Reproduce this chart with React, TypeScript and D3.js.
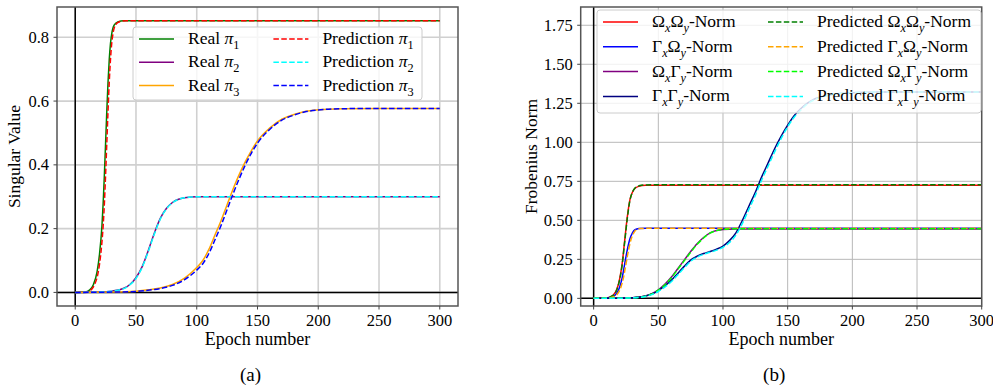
import React, { useEffect } from "react";
import * as d3 from "d3";

type Pt = [number, number];

const epochTicks = [0, 50, 100, 150, 200, 250, 300];
const singularTicks = [0, 0.2, 0.4, 0.6, 0.8];
const normTicks = [0, 0.25, 0.5, 0.75, 1, 1.25, 1.5, 1.75];

// (a) singular values, [epoch, value]
const realPi1: Pt[] = [[0, 0], [8, 0.001], [12, 0.008], [15, 0.025], [18, 0.065], [20, 0.12], [22, 0.21], [23, 0.28], [24, 0.37], [25, 0.47], [26, 0.57], [27, 0.66], [28, 0.73], [29, 0.78], [30, 0.81], [32, 0.838], [35, 0.848], [40, 0.852], [60, 0.852], [300, 0.852]];
const predPi1: Pt[] = [[0, 0], [9, 0.001], [13, 0.008], [16, 0.025], [19, 0.065], [21, 0.12], [23, 0.21], [24, 0.28], [25, 0.37], [26, 0.47], [27, 0.57], [28, 0.66], [29, 0.73], [30, 0.78], [31, 0.81], [33, 0.838], [36, 0.848], [42, 0.852], [60, 0.852], [300, 0.852]];
const realPi2: Pt[] = [[0, 0], [20, 0.001], [30, 0.004], [40, 0.013], [45, 0.025], [50, 0.046], [55, 0.08], [60, 0.13], [65, 0.185], [70, 0.232], [75, 0.263], [80, 0.282], [85, 0.292], [90, 0.297], [95, 0.299], [100, 0.3], [300, 0.3]];
const predPi2: Pt[] = [[0, 0], [20, 0.001], [30, 0.004], [40, 0.012], [45, 0.024], [50, 0.044], [55, 0.078], [60, 0.127], [65, 0.182], [70, 0.23], [75, 0.262], [80, 0.281], [85, 0.292], [90, 0.297], [95, 0.299], [100, 0.3], [300, 0.3]];
const realPi3: Pt[] = [[0, 0], [30, 0.001], [50, 0.004], [60, 0.008], [70, 0.014], [80, 0.025], [90, 0.045], [100, 0.078], [105, 0.1], [110, 0.135], [115, 0.18], [120, 0.225], [125, 0.275], [130, 0.325], [135, 0.37], [140, 0.41], [145, 0.445], [150, 0.475], [160, 0.515], [170, 0.543], [180, 0.558], [190, 0.568], [200, 0.573], [220, 0.576], [250, 0.577], [300, 0.577]];
const predPi3: Pt[] = [[0, 0], [30, 0.001], [50, 0.003], [60, 0.007], [70, 0.012], [80, 0.022], [90, 0.04], [100, 0.07], [105, 0.09], [110, 0.122], [115, 0.165], [120, 0.21], [125, 0.26], [130, 0.31], [135, 0.357], [140, 0.4], [145, 0.437], [150, 0.468], [160, 0.511], [170, 0.54], [180, 0.556], [190, 0.567], [200, 0.572], [220, 0.576], [250, 0.577], [300, 0.577]];

// (b) Frobenius norms
const realOO: Pt[] = [[0, 0], [10, 0.003], [15, 0.02], [18, 0.06], [20, 0.12], [22, 0.22], [24, 0.37], [26, 0.52], [28, 0.63], [30, 0.68], [32, 0.705], [35, 0.718], [40, 0.724], [50, 0.725], [300, 0.725]];
const predOO: Pt[] = [[0, 0], [10, 0.003], [15, 0.019], [18, 0.057], [20, 0.115], [22, 0.21], [24, 0.36], [26, 0.51], [28, 0.625], [30, 0.68], [32, 0.707], [35, 0.721], [40, 0.727], [50, 0.728], [300, 0.728]];
const realGO: Pt[] = [[0, 0], [10, 0.002], [15, 0.012], [18, 0.035], [20, 0.07], [22, 0.13], [24, 0.22], [26, 0.31], [28, 0.38], [30, 0.42], [32, 0.44], [35, 0.448], [40, 0.45], [300, 0.45]];
const predGO: Pt[] = [[0, 0], [11, 0.002], [16, 0.012], [19, 0.035], [21, 0.07], [23, 0.13], [25, 0.22], [27, 0.31], [29, 0.38], [31, 0.42], [33, 0.44], [36, 0.447], [42, 0.449], [300, 0.449]];
const realOG: Pt[] = [[0, 0], [20, 0.001], [30, 0.004], [40, 0.015], [45, 0.03], [50, 0.055], [55, 0.09], [60, 0.135], [65, 0.19], [70, 0.245], [75, 0.3], [80, 0.35], [85, 0.39], [90, 0.42], [95, 0.435], [100, 0.442], [110, 0.445], [300, 0.445]];
const predOG: Pt[] = [[0, 0], [20, 0.001], [30, 0.004], [40, 0.014], [45, 0.028], [50, 0.052], [55, 0.086], [60, 0.13], [65, 0.185], [70, 0.24], [75, 0.295], [80, 0.346], [85, 0.387], [90, 0.418], [95, 0.434], [100, 0.442], [110, 0.446], [300, 0.446]];
const realGG: Pt[] = [[0, 0], [20, 0.001], [30, 0.004], [40, 0.015], [45, 0.028], [50, 0.05], [55, 0.08], [60, 0.115], [65, 0.16], [70, 0.205], [75, 0.245], [80, 0.27], [85, 0.287], [90, 0.3], [95, 0.315], [100, 0.335], [105, 0.37], [110, 0.42], [115, 0.5], [120, 0.59], [125, 0.68], [130, 0.78], [135, 0.87], [140, 0.96], [145, 1.04], [150, 1.11], [155, 1.17], [160, 1.215], [165, 1.25], [170, 1.275], [180, 1.3], [190, 1.313], [200, 1.318], [220, 1.322], [300, 1.323]];
const predGG: Pt[] = [[0, 0], [20, 0.001], [30, 0.003], [40, 0.012], [45, 0.024], [50, 0.044], [55, 0.072], [60, 0.106], [65, 0.15], [70, 0.195], [75, 0.237], [80, 0.264], [85, 0.282], [90, 0.295], [95, 0.309], [100, 0.327], [105, 0.358], [110, 0.405], [115, 0.48], [120, 0.57], [125, 0.66], [130, 0.76], [135, 0.85], [140, 0.94], [145, 1.025], [150, 1.1], [155, 1.16], [160, 1.205], [165, 1.245], [170, 1.27], [180, 1.298], [190, 1.312], [200, 1.318], [220, 1.322], [300, 1.323]];

type Series = { data: Pt[]; color: string; dashed: boolean; label: string };

// "_c" -> subscript c, π drawn in italic
const seriesA: Series[] = [
  { data: realPi1, color: "green", dashed: false, label: "Real π_1" },
  { data: realPi2, color: "purple", dashed: false, label: "Real π_2" },
  { data: realPi3, color: "orange", dashed: false, label: "Real π_3" },
  { data: predPi1, color: "red", dashed: true, label: "Prediction π_1" },
  { data: predPi2, color: "cyan", dashed: true, label: "Prediction π_2" },
  { data: predPi3, color: "blue", dashed: true, label: "Prediction π_3" },
];

const seriesB: Series[] = [
  { data: realOO, color: "red", dashed: false, label: "Ω_xΩ_y-Norm" },
  { data: realGO, color: "blue", dashed: false, label: "Γ_xΩ_y-Norm" },
  { data: realOG, color: "purple", dashed: false, label: "Ω_xΓ_y-Norm" },
  { data: realGG, color: "navy", dashed: false, label: "Γ_xΓ_y-Norm" },
  { data: predOO, color: "green", dashed: true, label: "Predicted Ω_xΩ_y-Norm" },
  { data: predGO, color: "orange", dashed: true, label: "Predicted Γ_xΩ_y-Norm" },
  { data: predOG, color: "lime", dashed: true, label: "Predicted Ω_xΓ_y-Norm" },
  { data: predGG, color: "cyan", dashed: true, label: "Predicted Γ_xΓ_y-Norm" },
];

const TS = { fontFamily: "Liberation Serif" };

function richText(label: string, size: number) {
  const segs: { t: string; sub: boolean }[] = [];
  let buf = "";
  for (let i = 0; i < label.length; i++) {
    if (label[i] === "_") {
      if (buf) segs.push({ t: buf, sub: false });
      buf = "";
      segs.push({ t: label[i + 1], sub: true });
      i++;
    } else buf += label[i];
  }
  if (buf) segs.push({ t: buf, sub: false });
  const shift = size * 0.28;
  let inSub = false;
  const out: React.ReactNode[] = [];
  segs.forEach((s, k) => {
    const dy = s.sub && !inSub ? shift : !s.sub && inSub ? -shift : 0;
    inSub = s.sub;
    if (s.sub) {
      out.push(
        <tspan key={k} dy={dy} fontSize={size * 0.7} fontStyle={/[a-z]/.test(s.t) ? "italic" : "normal"}>
          {s.t}
        </tspan>
      );
    } else {
      // split π out so it can be italic
      const parts = s.t.split(/(π)/);
      let first = true;
      parts.forEach((p, j) => {
        if (!p) return;
        out.push(
          <tspan key={k + "-" + j} dy={first ? dy : 0} fontStyle={p === "π" ? "italic" : "normal"}>
            {p}
          </tspan>
        );
        first = false;
      });
    }
  });
  return out;
}

type PanelProps = {
  box: { left: number; right: number; top: number; bottom: number };
  xDomain: [number, number];
  yDomain: [number, number];
  yTicks: number[];
  yFormat: (v: number) => string;
  ylabel: string;
  ylabelX: number;
  caption: string;
  series: Series[];
  rows: number;
  legend: { x: number; y: number; w: number; h: number; rowGap: number; col2: number; font: number };
  gridColor: string;
  gridWidth: number;
  id: string;
};

const Panel = ({ box, xDomain, yDomain, yTicks, yFormat, ylabel, ylabelX, caption, series, rows, legend, gridColor, gridWidth, id }: PanelProps) => {
  const x = d3.scaleLinear().domain(xDomain).range([box.left, box.right]);
  const y = d3.scaleLinear().domain(yDomain).range([box.bottom, box.top]);
  const line = d3
    .line<Pt>()
    .x((d) => x(d[0]))
    .y((d) => y(d[1]))
    .curve(d3.curveMonotoneX);
  const cx = (box.left + box.right) / 2;

  return (
    <g fill="#000">
      <defs>
        <clipPath id={id}>
          <rect x={box.left} y={box.top} width={box.right - box.left} height={box.bottom - box.top} />
        </clipPath>
      </defs>
      {/* grid */}
      {epochTicks.map((t) => (
        <line key={"gx" + t} x1={x(t)} x2={x(t)} y1={box.top} y2={box.bottom} stroke={gridColor} strokeWidth={gridWidth} />
      ))}
      {yTicks.map((t) => (
        <line key={"gy" + t} x1={box.left} x2={box.right} y1={y(t)} y2={y(t)} stroke={gridColor} strokeWidth={gridWidth} />
      ))}
      {/* zero lines */}
      <line x1={x(0)} x2={x(0)} y1={box.top} y2={box.bottom} stroke="#000" strokeWidth={1.5} />
      <line x1={box.left} x2={box.right} y1={y(0)} y2={y(0)} stroke="#000" strokeWidth={1.5} />
      {/* curves */}
      <g clipPath={`url(#${id})`}>
        {series
          .filter((s) => !s.dashed)
          .map((s, i) => (
            <path key={"r" + i} d={line(s.data) || ""} fill="none" stroke={s.color} strokeWidth={1.5} />
          ))}
        {series
          .filter((s) => s.dashed)
          .map((s, i) => (
            <path key={"p" + i} d={line(s.data) || ""} fill="none" stroke={s.color} strokeWidth={1.5} strokeDasharray="5.5,2.4" />
          ))}
      </g>
      {/* frame */}
      <rect x={box.left} y={box.top} width={box.right - box.left} height={box.bottom - box.top} fill="none" stroke="#555" strokeWidth={1.5} />
      {/* ticks */}
      {epochTicks.map((t) => (
        <g key={"tx" + t}>
          <line x1={x(t)} x2={x(t)} y1={box.bottom} y2={box.bottom + 3.5} stroke="#444" />
          <text x={x(t)} y={box.bottom + 19.5} textAnchor="middle" fontSize={16.5} style={TS}>
            {t}
          </text>
        </g>
      ))}
      {yTicks.map((t) => (
        <g key={"ty" + t}>
          <line x1={box.left - 3.5} x2={box.left} y1={y(t)} y2={y(t)} stroke="#444" />
          <text x={box.left - 8} y={y(t) + 5.5} textAnchor="end" fontSize={16.5} style={TS}>
            {yFormat(t)}
          </text>
        </g>
      ))}
      <text x={cx} y={box.bottom + 39} textAnchor="middle" fontSize={18} style={TS}>
        Epoch number
      </text>
      <text transform={`translate(${ylabelX},${(box.top + box.bottom) / 2}) rotate(-90)`} textAnchor="middle" fontSize={17.5} style={TS}>
        {ylabel}
      </text>
      <text x={cx - 7} y={381} textAnchor="middle" fontSize={19} style={TS}>
        {caption}
      </text>
      {/* legend */}
      <g>
        <rect x={legend.x} y={legend.y} width={legend.w} height={legend.h} rx={3} fill="#fff" fillOpacity={0.8} stroke="#ccc" />
        {series.map((s, i) => {
          const col = Math.floor(i / rows);
          const row = i % rows;
          const lx = legend.x + 6 + col * legend.col2;
          const ly = legend.y + 12 + row * legend.rowGap;
          return (
            <g key={"lg" + i}>
              <line x1={lx} x2={lx + 35} y1={ly} y2={ly} stroke={s.color} strokeWidth={1.5} strokeDasharray={s.dashed ? "5.5,2.4" : undefined} />
              <text x={lx + 49} y={ly + 5} fontSize={legend.font} style={TS}>
                {richText(s.label, legend.font)}
              </text>
            </g>
          );
        })}
      </g>
    </g>
  );
};

const App = () => {
  useEffect(() => {
    document.body.style.margin = "0";
  }, []);
  return (
    <svg width={993} height={390} style={{ display: "block", background: "#fff" }}>
      <Panel
        id="clipA"
        box={{ left: 57, right: 458, top: 7, bottom: 306 }}
        xDomain={[-15, 315]}
        yDomain={[-0.0426, 0.895]}
        yTicks={singularTicks}
        yFormat={d3.format(".1f")}
        ylabel="Singular Value"
        ylabelX={20}
        caption="(a)"
        series={seriesA}
        rows={3}
        legend={{ x: 133, y: 27, w: 289, h: 73, rowGap: 23.3, col2: 134.4, font: 17.5 }}
        gridColor="#d0d0d0"
        gridWidth={1.6}
      />
      <Panel
        id="clipB"
        box={{ left: 580.7, right: 981.7, top: 7, bottom: 306 }}
        xDomain={[-10, 300]}
        yDomain={[-0.049, 1.867]}
        yTicks={normTicks}
        yFormat={d3.format(".2f")}
        ylabel="Frobenius Norm"
        ylabelX={537}
        caption="(b)"
        series={seriesB}
        rows={4}
        legend={{ x: 597, y: 10, w: 384, h: 103, rowGap: 24.8, col2: 165, font: 17.5 }}
        gridColor="#b8b8b8"
        gridWidth={1}
      />
    </svg>
  );
};

export default App;
